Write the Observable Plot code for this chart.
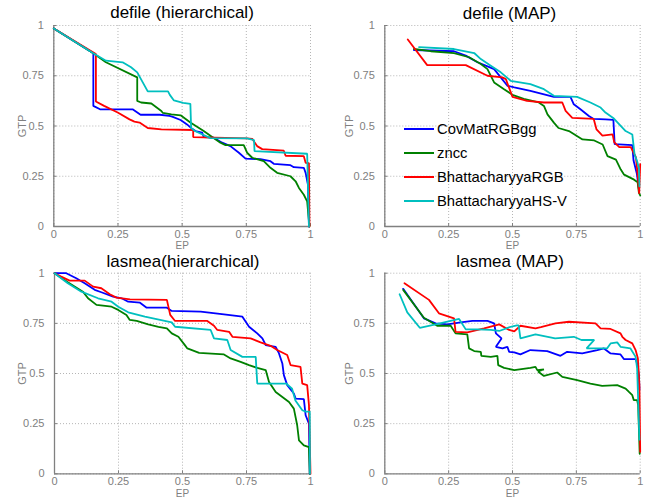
<!DOCTYPE html>
<html><head><meta charset="utf-8">
<script src="https://cdn.jsdelivr.net/npm/d3@7"></script>
<script src="https://cdn.jsdelivr.net/npm/@observablehq/plot@0.6"></script>
<style>
body{margin:0;background:#fff;}
#root{position:relative;width:654px;height:502px;overflow:hidden;font-family:"Liberation Sans",Arial,sans-serif;}
.cell{position:absolute;width:327px;height:251px;}
.title{position:absolute;font-size:17px;line-height:17px;color:#000;white-space:nowrap;transform:translateX(-50%);}
.legrow{position:absolute;height:20px;display:flex;align-items:center;white-space:nowrap;}
</style></head>
<body><div id="root"></div>
<script>
const seriesNames = ["CovMatRGBgg", "zncc", "BhattacharyyaRGB", "BhattacharyyaHS-V"];
const seriesColors = ["#0000ff", "#008000", "#ff0000", "#00bfbf"];
const tickValues = [0, 0.25, 0.5, 0.75, 1];
const tickLabels = ["0", "0.25", "0.5", "0.75", "1"];
const panelTitles = ["defile (hierarchical)", "defile (MAP)", "lasmea(hierarchical)", "lasmea (MAP)"];
const xLabel = "EP", yLabel = "GTP";

// defile (hierarchical)
const defileHierCovMat = [[0,0.985],[0.154,0.862],[0.154,0.60],[0.18,0.583],[0.307,0.583],[0.338,0.556],[0.413,0.556],[0.45,0.55],[0.461,0.547],[0.494,0.53],[0.519,0.508],[0.539,0.486],[0.552,0.475],[0.578,0.467],[0.584,0.445],[0.623,0.442],[0.656,0.417],[0.688,0.40],[0.721,0.367],[0.747,0.338],[0.805,0.335],[0.844,0.325],[0.857,0.312],[0.922,0.305],[0.935,0.295],[0.974,0.292],[0.981,0.267],[0.99,0.208],[0.994,0]];
const defileHierZncc = [[0,0.985],[0.154,0.862],[0.203,0.817],[0.325,0.742],[0.325,0.625],[0.34,0.617],[0.38,0.612],[0.419,0.575],[0.425,0.565],[0.458,0.558],[0.494,0.553],[0.532,0.517],[0.584,0.475],[0.617,0.445],[0.649,0.417],[0.669,0.405],[0.74,0.405],[0.753,0.367],[0.773,0.342],[0.818,0.325],[0.844,0.292],[0.87,0.267],[0.922,0.25],[0.942,0.225],[0.955,0.192],[0.974,0.158],[0.987,0.125],[0.99,0.083],[0.996,0]];
const defileHierBhatRGB = [[0,0.985],[0.164,0.858],[0.164,0.622],[0.196,0.60],[0.249,0.567],[0.295,0.533],[0.314,0.522],[0.334,0.517],[0.366,0.49],[0.419,0.483],[0.543,0.48],[0.543,0.445],[0.753,0.438],[0.773,0.436],[0.792,0.40],[0.812,0.385],[0.896,0.377],[0.903,0.352],[0.974,0.35],[0.981,0.317],[0.994,0.315],[0.996,0]];
const defileHierBhatHSV = [[0,0.985],[0.154,0.862],[0.203,0.825],[0.268,0.817],[0.301,0.792],[0.325,0.767],[0.366,0.672],[0.445,0.672],[0.452,0.655],[0.468,0.627],[0.504,0.615],[0.532,0.61],[0.535,0.49],[0.55,0.475],[0.61,0.44],[0.753,0.438],[0.78,0.43],[0.782,0.375],[0.987,0.362],[0.994,0]];

// defile (MAP)
const defileMapCovMat = [[0.114,0.878],[0.271,0.872],[0.317,0.85],[0.363,0.817],[0.395,0.80],[0.428,0.783],[0.454,0.742],[0.48,0.70],[0.507,0.692],[0.57,0.675],[0.662,0.645],[0.727,0.645],[0.74,0.608],[0.766,0.583],[0.799,0.55],[0.818,0.535],[0.864,0.533],[0.895,0.53],[0.9,0.41],[0.969,0.405],[0.974,0.328],[0.987,0.262],[0.996,0.175]];
const defileMapZncc = [[0.114,0.883],[0.18,0.872],[0.271,0.863],[0.33,0.842],[0.376,0.808],[0.402,0.783],[0.428,0.717],[0.467,0.683],[0.5,0.655],[0.544,0.635],[0.603,0.617],[0.623,0.60],[0.637,0.558],[0.662,0.517],[0.68,0.49],[0.721,0.475],[0.774,0.433],[0.82,0.428],[0.853,0.408],[0.872,0.35],[0.905,0.333],[0.924,0.283],[0.937,0.258],[0.976,0.233],[0.99,0.22],[0.995,0.167],[1.0,0.155]];
const defileMapBhatRGB = [[0.09,0.93],[0.166,0.803],[0.317,0.803],[0.402,0.75],[0.46,0.742],[0.474,0.733],[0.5,0.645],[0.557,0.625],[0.623,0.617],[0.695,0.617],[0.708,0.575],[0.734,0.54],[0.818,0.535],[0.829,0.483],[0.852,0.452],[0.892,0.458],[0.898,0.42],[0.918,0.395],[0.963,0.395],[0.97,0.378],[0.983,0.345],[0.99,0.262],[0.996,0.163],[1.0,0.31]];
const defileMapBhatHSV = [[0.134,0.892],[0.271,0.883],[0.35,0.863],[0.376,0.833],[0.415,0.80],[0.454,0.767],[0.493,0.725],[0.57,0.708],[0.623,0.683],[0.662,0.65],[0.753,0.645],[0.805,0.617],[0.845,0.592],[0.864,0.567],[0.897,0.537],[0.943,0.475],[0.969,0.458],[0.978,0.358],[0.988,0.325],[0.995,0.29],[0.997,0.2]];

// lasmea (hierarchical)
const lasmeaHierCovMat = [[0,1],[0.046,1],[0.085,0.975],[0.118,0.95],[0.157,0.917],[0.183,0.905],[0.229,0.883],[0.262,0.875],[0.288,0.858],[0.334,0.853],[0.36,0.828],[0.439,0.828],[0.458,0.812],[0.571,0.808],[0.662,0.795],[0.734,0.783],[0.747,0.758],[0.76,0.733],[0.792,0.70],[0.812,0.675],[0.825,0.642],[0.864,0.633],[0.877,0.60],[0.89,0.55],[0.896,0.492],[0.909,0.442],[0.935,0.40],[0.942,0.375],[0.974,0.372],[0.981,0.292],[0.994,0.25],[0.997,0]];
const lasmeaHierZncc = [[0,1],[0.052,0.955],[0.111,0.908],[0.131,0.875],[0.164,0.842],[0.223,0.833],[0.249,0.817],[0.281,0.792],[0.294,0.767],[0.321,0.762],[0.366,0.745],[0.406,0.733],[0.439,0.725],[0.458,0.70],[0.484,0.683],[0.51,0.64],[0.519,0.625],[0.565,0.603],[0.662,0.595],[0.688,0.575],[0.727,0.558],[0.76,0.542],[0.792,0.528],[0.825,0.517],[0.838,0.458],[0.864,0.408],[0.89,0.383],[0.916,0.358],[0.935,0.325],[0.948,0.242],[0.955,0.167],[0.974,0.142],[0.994,0.133],[0.997,0]];
const lasmeaHierBhatRGB = [[0,1],[0.026,0.983],[0.059,0.963],[0.118,0.963],[0.151,0.933],[0.183,0.925],[0.216,0.895],[0.242,0.878],[0.295,0.87],[0.439,0.867],[0.452,0.792],[0.471,0.762],[0.597,0.762],[0.623,0.738],[0.636,0.717],[0.682,0.708],[0.695,0.683],[0.766,0.675],[0.805,0.655],[0.844,0.638],[0.87,0.617],[0.909,0.592],[0.922,0.542],[0.961,0.533],[0.968,0.45],[0.987,0.442],[0.994,0.342],[1.0,0]];
const lasmeaHierBhatHSV = [[0,1],[0.052,0.95],[0.105,0.908],[0.17,0.875],[0.223,0.858],[0.249,0.833],[0.288,0.805],[0.353,0.783],[0.458,0.755],[0.471,0.733],[0.61,0.717],[0.623,0.675],[0.675,0.667],[0.688,0.617],[0.734,0.583],[0.786,0.583],[0.792,0.45],[0.905,0.45],[0.928,0.424],[0.941,0.365],[0.968,0.317],[0.981,0.31],[0.997,0.31],[0.998,0]];

// lasmea (MAP)
const lasmeaMapCovMat = [[0.072,0.922],[0.153,0.775],[0.199,0.75],[0.245,0.745],[0.297,0.755],[0.343,0.762],[0.402,0.762],[0.428,0.75],[0.435,0.70],[0.457,0.675],[0.435,0.633],[0.461,0.625],[0.48,0.633],[0.487,0.608],[0.507,0.605],[0.531,0.595],[0.57,0.617],[0.636,0.612],[0.688,0.588],[0.714,0.608],[0.773,0.60],[0.832,0.617],[0.858,0.625],[0.884,0.60],[0.923,0.595],[0.936,0.572],[0.982,0.572],[0.988,0.55],[0.995,0.492],[0.997,0.42]];
const lasmeaMapZncc = [[0.072,0.917],[0.153,0.778],[0.205,0.738],[0.258,0.738],[0.277,0.70],[0.323,0.695],[0.33,0.625],[0.35,0.612],[0.376,0.608],[0.378,0.588],[0.415,0.583],[0.441,0.588],[0.444,0.542],[0.467,0.528],[0.507,0.517],[0.57,0.528],[0.59,0.533],[0.597,0.517],[0.623,0.52],[0.60,0.51],[0.623,0.488],[0.675,0.505],[0.695,0.483],[0.753,0.467],[0.805,0.45],[0.851,0.438],[0.91,0.442],[0.943,0.425],[0.956,0.408],[0.969,0.392],[0.975,0.367],[0.988,0.367],[0.992,0.342],[0.998,0.1]];
const lasmeaMapBhatRGB = [[0.077,0.95],[0.173,0.867],[0.212,0.80],[0.271,0.775],[0.277,0.708],[0.323,0.705],[0.389,0.725],[0.448,0.745],[0.487,0.717],[0.507,0.71],[0.531,0.738],[0.59,0.725],[0.611,0.731],[0.668,0.75],[0.721,0.758],[0.825,0.75],[0.845,0.725],[0.884,0.722],[0.923,0.70],[0.93,0.683],[0.943,0.667],[0.969,0.65],[0.982,0.617],[0.991,0.575],[0.997,0.44],[1.0,0.11]];
const lasmeaMapBhatHSV = [[0.058,0.895],[0.088,0.805],[0.137,0.728],[0.199,0.745],[0.291,0.772],[0.317,0.72],[0.363,0.72],[0.415,0.717],[0.448,0.712],[0.493,0.733],[0.517,0.74],[0.524,0.74],[0.531,0.675],[0.59,0.695],[0.667,0.675],[0.74,0.683],[0.77,0.667],[0.82,0.668],[0.79,0.625],[0.87,0.625],[0.884,0.65],[0.91,0.655],[0.923,0.633],[0.962,0.625],[0.982,0.583],[0.988,0.525],[0.997,0.17]];

const panelSeries = [
  [defileHierCovMat, defileHierZncc, defileHierBhatRGB, defileHierBhatHSV],
  [defileMapCovMat, defileMapZncc, defileMapBhatRGB, defileMapBhatHSV],
  [lasmeaHierCovMat, lasmeaHierZncc, lasmeaHierBhatRGB, lasmeaHierBhatHSV],
  [lasmeaMapCovMat, lasmeaMapZncc, lasmeaMapBhatRGB, lasmeaMapBhatHSV]
];

// layout of the 2x2 grid
const layout = [
  {left:0,   top:0,   ml:53.3, mr:17,  mt:25, mb:25,  tx:182,   tt:3.9},
  {left:327, top:0,   ml:57.3, mr:14.3,mt:25, mb:25,  tx:509.5, tt:4.6},
  {left:0,   top:251, ml:54,   mr:17,  mt:21.7, mb:28.7, tx:183, tt:252.5},
  {left:327, top:251, ml:57.3, mr:14.3,mt:21.7, mb:28.7, tx:510, tt:252.7}
];

const root = document.getElementById("root");
const gray = "#808080";
const fmtTick = d => tickLabels[tickValues.indexOf(d)];

panelSeries.forEach((series, p) => {
  const L = layout[p];
  const cell = document.createElement("div");
  cell.className = "cell";
  cell.style.left = L.left + "px";
  cell.style.top = L.top + "px";
  const marks = [
    Plot.gridX({ticks: tickValues, stroke: "#b5b5b5", strokeOpacity: 1, strokeDasharray: "1,2"}),
    Plot.gridY({ticks: tickValues, stroke: "#b5b5b5", strokeOpacity: 1, strokeDasharray: "1,2"}),
    Plot.axisX({ticks: tickValues, tickFormat: fmtTick, tickSize: 0, tickPadding: 3.5, label: null, fill: gray}),
    Plot.axisY({ticks: tickValues, tickFormat: fmtTick, tickSize: 0, tickPadding: 10, label: null, fill: gray}),
    Plot.ruleX(tickValues, {x: d => d, y1: 0, y2: 0.015, stroke: gray}),
    Plot.ruleY(tickValues, {y: d => d, x1: 0, x2: 0.012, stroke: gray}),
    Plot.ruleX([0], {stroke: gray, strokeWidth: 1.3}),
    Plot.ruleY([0], {stroke: gray, strokeWidth: 1.3}),
    ...series.map((data, i) => Plot.line(data, {x: d => d[0], y: d => d[1], stroke: seriesColors[i], strokeWidth: 1.8, strokeLinejoin: "miter"})),
    Plot.text([xLabel], {frameAnchor: "bottom", lineAnchor: "middle", textAnchor: "middle", dy: 19.7, fill: gray, fontSize: 10}),
    Plot.text([yLabel], {frameAnchor: "left", lineAnchor: "middle", textAnchor: "middle", rotate: -90, dx: -L.ml + 21.5, fill: gray, fontSize: 11})
  ];
  const svg = Plot.plot({
    width: 327, height: 251,
    marginLeft: L.ml, marginRight: L.mr, marginTop: L.mt, marginBottom: L.mb,
    style: {fontFamily: '"Liberation Sans", Arial, sans-serif', fontSize: "11px", color: gray, background: "transparent", overflow: "visible"},
    x: {domain: [0, 1]},
    y: {domain: [0, 1]},
    marks
  });
  cell.appendChild(svg);
  root.appendChild(cell);

  const t = document.createElement("div");
  t.className = "title";
  t.textContent = panelTitles[p];
  t.style.left = L.tx + "px";
  t.style.top = L.tt + "px";
  root.appendChild(t);
});

// legend (inside defile (MAP))
seriesNames.forEach((name, i) => {
  const row = document.createElement("div");
  row.className = "legrow";
  row.style.left = "404px";
  row.style.top = (128.7 + 24.1 * i - 10) + "px";
  const sw = document.createElement("span");
  sw.style.cssText = `display:inline-block;width:30px;height:0;border-top:2px solid ${seriesColors[i]};`;
  const tx = document.createElement("span");
  tx.style.cssText = "margin-left:3px;font-size:14.8px;color:#000;";
  tx.textContent = name;
  row.appendChild(sw);
  row.appendChild(tx);
  root.appendChild(row);
});
</script>
</body></html>
